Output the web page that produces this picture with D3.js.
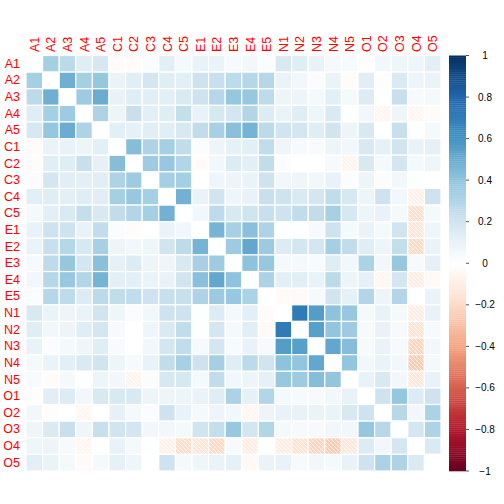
<!DOCTYPE html>
<html>
<head>
<meta charset="utf-8">
<script src="https://cdn.jsdelivr.net/npm/d3@7"></script>
<style>
  body { margin: 0; background: #fff; }
  svg text { font-family: "Liberation Sans", Arial, sans-serif; }
</style>
</head>
<body>
<div id="chart"></div>
<script>
let width = 504;
let height = 504;

// item labels
let items = ["A1","A2","A3","A4","A5","C1","C2","C3","C4","C5",
             "E1","E2","E3","E4","E5","N1","N2","N3","N4","N5",
             "O1","O2","O3","O4","O5"];

// lower triangle of the correlation matrix, row i holds r(i, 0..i-1)
let lower = [
  [],
  [0.34],
  [0.27, 0.49],
  [0.14, 0.34, 0.36],
  [0.18, 0.39, 0.50, 0.31],
  [-0.03, 0.09, 0.10, 0.08, 0.12],
  [-0.02, 0.13, 0.14, 0.23, 0.11, 0.43],
  [0.02, 0.19, 0.13, 0.12, 0.13, 0.31, 0.36],
  [0.12, 0.14, 0.12, 0.14, 0.13, 0.34, 0.38, 0.34],
  [0.05, 0.12, 0.16, 0.24, 0.17, 0.25, 0.30, 0.34, 0.48],
  [0.10, 0.21, 0.21, 0.10, 0.25, 0.02, -0.02, 0.00, 0.09, 0.06],
  [0.09, 0.23, 0.29, 0.18, 0.33, 0.08, 0.06, 0.07, 0.20, 0.26, 0.47],
  [0.04, 0.26, 0.39, 0.19, 0.42, 0.11, 0.15, 0.08, 0.07, 0.17, 0.33, 0.36],
  [0.06, 0.29, 0.38, 0.30, 0.47, 0.12, 0.12, 0.09, 0.10, 0.20, 0.42, 0.52, 0.41],
  [0.02, 0.29, 0.26, 0.15, 0.27, 0.25, 0.25, 0.21, 0.23, 0.23, 0.31, 0.37, 0.38, 0.32],
  [0.17, 0.09, 0.08, 0.09, 0.20, 0.07, 0.02, 0.06, 0.21, 0.21, 0.01, 0.15, 0.05, 0.12, -0.03],
  [0.14, 0.06, 0.08, 0.14, 0.19, 0.04, 0.00, 0.07, 0.16, 0.25, 0.01, 0.19, 0.05, 0.13, -0.04, 0.71],
  [0.10, 0.02, 0.05, 0.07, 0.14, 0.03, 0.00, 0.06, 0.19, 0.25, 0.04, 0.19, 0.03, 0.10, 0.04, 0.56, 0.55],
  [0.05, 0.09, 0.12, 0.16, 0.20, 0.08, 0.04, 0.10, 0.25, 0.33, 0.21, 0.34, 0.14, 0.27, 0.20, 0.41, 0.40, 0.52],
  [0.03, -0.02, 0.05, 0.01, 0.08, 0.06, -0.06, 0.02, 0.18, 0.18, 0.05, 0.25, 0.06, 0.08, 0.11, 0.38, 0.36, 0.43, 0.40],
  [-0.01, 0.13, 0.15, 0.06, 0.17, 0.17, 0.17, 0.08, 0.08, 0.08, 0.09, 0.14, 0.32, 0.11, 0.30, 0.05, 0.04, 0.04, 0.06, 0.10],
  [0.06, -0.01, 0.00, -0.05, 0.00, 0.11, 0.05, 0.02, 0.21, 0.10, 0.05, 0.08, 0.06, -0.05, 0.08, 0.10, 0.10, 0.09, 0.09, 0.17, 0.21],
  [0.07, 0.16, 0.23, 0.07, 0.23, 0.20, 0.19, 0.06, 0.06, 0.05, 0.20, 0.24, 0.38, 0.19, 0.30, 0.05, 0.04, 0.04, 0.06, 0.06, 0.39, 0.28],
  [0.07, 0.08, 0.04, -0.05, 0.01, 0.10, 0.05, 0.01, -0.08, -0.18, -0.14, -0.20, 0.04, -0.10, 0.00, -0.10, -0.15, -0.22, -0.25, -0.13, 0.15, 0.06, 0.19],
  [0.12, 0.09, 0.05, -0.03, 0.05, 0.11, 0.07, 0.00, 0.21, 0.05, 0.07, 0.09, 0.11, -0.04, 0.09, 0.10, 0.04, 0.06, 0.05, 0.10, 0.21, 0.32, 0.31, 0.16]
];

// colour legend ticks
let legendTicks = [1, 0.8, 0.6, 0.4, 0.2, 0, -0.2, -0.4, -0.6, -0.8, -1];

// corrplot's default palette
let paletteStops = ["#67001F", "#B2182B", "#D6604D", "#F4A582", "#FDDBC7", "#FFFFFF",
                    "#D1E5F0", "#92C5DE", "#4393C3", "#2166AC", "#053061"];

let color = d3.scaleLinear()
  .domain(d3.range(11).map(function(i){ return -1 + i * 0.2 }))
  .range(paletteStops)
  .interpolate(d3.interpolateRgb);

// full symmetric table, diagonal left blank
let cells = [];
items.forEach(function(rowName, i){
  items.forEach(function(colName, j){
    let v = 0;
    if (i > j) v = lower[i][j];
    if (j > i) v = lower[j][i];
    cells.push({ row: rowName, col: colName, value: v, diag: i == j });
  });
});

let x = d3.scaleBand().domain(items).range([26, 441]);
let y = d3.scaleBand().domain(items).range([55.5, 471]);

let svg = d3.select("#chart").append("svg")
  .attr("width", width)
  .attr("height", height);

// hatching for negative cells
svg.append("defs").append("pattern")
  .attr("id", "hatch")
  .attr("patternUnits", "userSpaceOnUse")
  .attr("width", 4)
  .attr("height", 4)
  .selectAll("path")
  .data(["M0,0 L4,4", "M-1,3 L1,5", "M3,-1 L5,1"])
  .join("path")
  .attr("d", function(d){ return d })
  .style("stroke", "white")
  .style("stroke-width", 0.8)
  .style("opacity", 0.9);

svg.selectAll(".cell")
  .data(cells)
  .join("rect")
  .attr("class", "cell")
  .attr("x", function(d){ return x(d.col) })
  .attr("y", function(d){ return y(d.row) })
  .attr("width", x.bandwidth())
  .attr("height", y.bandwidth())
  .style("fill", function(d){ return d.diag ? "white" : color(d.value) })
  .style("stroke", "white")
  .style("stroke-width", 1.2);

svg.selectAll(".shade")
  .data(cells.filter(function(d){ return d.value < 0 }))
  .join("rect")
  .attr("class", "shade")
  .attr("x", function(d){ return x(d.col) + 0.6 })
  .attr("y", function(d){ return y(d.row) + 0.6 })
  .attr("width", x.bandwidth() - 1.2)
  .attr("height", y.bandwidth() - 1.2)
  .style("fill", "url(#hatch)");

// row labels
svg.selectAll(".rowlab")
  .data(items)
  .join("text")
  .attr("class", "rowlab")
  .attr("x", 20)
  .attr("y", function(d){ return y(d) + y.bandwidth() / 2 })
  .attr("text-anchor", "end")
  .attr("dominant-baseline", "central")
  .style("font-size", "12.5px")
  .style("fill", "red")
  .text(function(d){ return d });

// column labels, vertical
svg.selectAll(".collab")
  .data(items)
  .join("text")
  .attr("class", "collab")
  .attr("transform", function(d){ return "translate(" + (x(d) + x.bandwidth() / 2 + 0.5) + ",52) rotate(-90)" })
  .attr("text-anchor", "start")
  .attr("dominant-baseline", "central")
  .style("font-size", "12.5px")
  .style("fill", "red")
  .text(function(d){ return d });

// colour legend
let legendY = d3.scaleLinear().domain([-1, 1]).range([471, 55.5]);
let bins = d3.range(200).map(function(i){ return -1 + i * 0.01 });

svg.selectAll(".bin")
  .data(bins)
  .join("rect")
  .attr("class", "bin")
  .attr("x", 449)
  .attr("y", function(d){ return legendY(d + 0.01) })
  .attr("width", 17)
  .attr("height", function(d){ return legendY(d) - legendY(d + 0.01) + 0.3 })
  .style("fill", function(d){ return color(d + 0.005) });

svg.selectAll(".ltick")
  .data(legendTicks)
  .join("line")
  .attr("class", "ltick")
  .attr("x1", 466)
  .attr("x2", 469)
  .attr("y1", function(d){ return legendY(d) })
  .attr("y2", function(d){ return legendY(d) })
  .style("stroke", "#555")
  .style("stroke-width", 1);

svg.selectAll(".llab")
  .data(legendTicks)
  .join("text")
  .attr("class", "llab")
  .attr("x", 485)
  .attr("y", function(d){ return legendY(d) })
  .attr("text-anchor", "middle")
  .attr("dominant-baseline", "central")
  .style("font-size", "10px")
  .style("fill", "black")
  .text(function(d){ return d3.format("")(+d.toFixed(1)) });
</script>
</body>
</html>
